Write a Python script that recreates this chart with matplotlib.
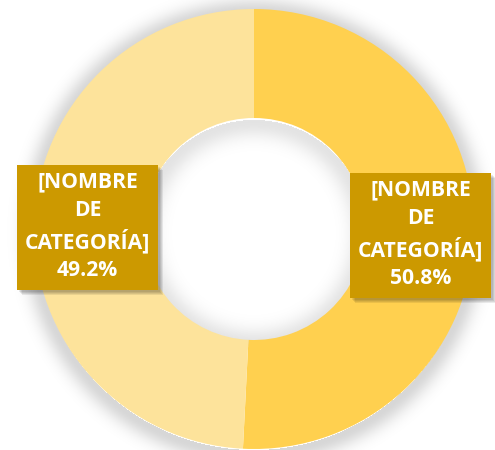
import numpy as np
import matplotlib
matplotlib.use("Agg")
import matplotlib.pyplot as plt
from matplotlib.patches import Rectangle
import matplotlib.patheffects as pe

# data
categories = ["[NOMBRE DE CATEGORÍA]", "[NOMBRE DE CATEGORÍA]"]
values = [50.8, 49.2]
colors = ["#FFD04F", "#FDE39B"]
box_color = "#CC9900"

W, H = 495, 450
cx, cy = 254, H - 229      # donut centre in pixel coords (y up)
r_out, r_in = 220, 111

fig = plt.figure(figsize=(W / 100, H / 100), dpi=100)
ax = fig.add_axes([0, 0, 1, 1])

# soft shadow around the ring and inside the hole
yy, xx = np.mgrid[0:H, 0:W]
d = np.hypot(xx + 0.5 - cx, (H - yy - 0.5) - (cy - 3))
alpha = np.zeros_like(d)
outside = d > r_out - 2
alpha[outside] = 0.16 * np.exp(-((d[outside] - r_out) / 14.0) ** 2)
d2 = np.hypot(xx + 0.5 - cx, (H - yy - 0.5) - (cy - 4))
inside = d2 < r_in + 2
alpha[inside] = 0.11 * np.exp(-((r_in - d2[inside]) / 16.0) ** 2)
shade = np.zeros((H, W, 4))
shade[..., 3] = alpha
ax.imshow(shade, extent=(0, W, 0, H), zorder=0, interpolation="bilinear")

wedges, _ = ax.pie(values, colors=colors, startangle=90, counterclock=False,
                   center=(cx, cy), radius=r_out,
                   wedgeprops=dict(width=r_out - r_in, linewidth=0))
for w in wedges:
    w.set_zorder(1)

# label boxes (manual layout like the original)
boxes = [(350, H - 298), (17, H - 290)]   # lower-left corner of each box
bw, bh = 141, 125
for (bx, by), cat, v in zip(boxes, categories, values):
    # blurred-ish drop shadow: a few stacked offset rectangles
    for k in range(4):
        sh = Rectangle((bx + 2 + k, by - 2 - k), bw, bh, facecolor="black",
                       edgecolor="none", alpha=0.08, zorder=2)
        ax.add_patch(sh)
    rect = Rectangle((bx, by), bw, bh, facecolor=box_color, edgecolor="none", zorder=3)
    ax.add_patch(rect)
    txt = cat.replace(" DE ", "\nDE\n") + "\n" + f"{v:.1f}%"
    ax.text(bx + bw / 2, by + bh / 2 + 1, txt, ha="center", va="center",
            color="white", fontsize=15.2, fontweight="bold", family="Open Sans",
            linespacing=1.42, zorder=4)

ax.set_xlim(0, W)
ax.set_ylim(0, H)
ax.set_aspect("auto")
ax.axis("off")

fig.savefig("out.png", dpi=100)
